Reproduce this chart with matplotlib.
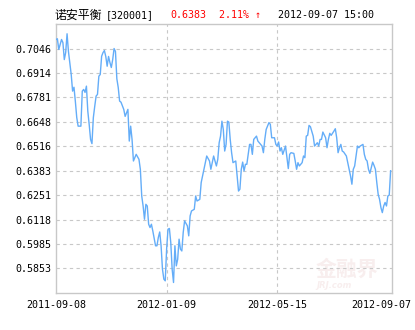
import matplotlib
matplotlib.use("Agg")
import matplotlib.pyplot as plt
import matplotlib.transforms as mtransforms

# NAV of 诺安平衡 [320001], one point per (sampled) trading day
days = [0, 1, 2, 4, 5, 6, 7, 8, 9, 11,
        12, 13, 14, 15, 16, 18, 19, 20, 21, 22,
        23, 24, 25, 26, 27, 28, 29, 30, 31, 32,
        33, 34, 35, 36, 37, 38, 39, 40, 41, 42,
        43, 44, 45, 46, 47, 49, 50, 52, 53, 54,
        55, 56, 58, 60, 61, 62, 63, 64, 65, 66,
        67, 68, 69, 70, 72, 73, 74, 75, 76, 77,
        78, 79, 80, 81, 82, 83, 84, 85, 86, 87,
        88, 89, 90, 91, 92, 93, 95, 96, 97, 98,
        100, 101, 102, 104, 105, 107, 108, 109, 111, 112,
        113, 114, 116, 117, 118, 119, 120, 121, 122, 123,
        124, 125, 126, 127, 128, 130, 131, 132, 133, 134,
        135, 136, 137, 138, 140, 141, 142, 143, 145, 146,
        148, 149, 150, 151, 152, 154, 155, 156, 158, 159,
        160, 161, 162, 163, 164, 166, 167, 168, 169, 170,
        172, 173, 174, 175, 176, 178, 179, 180, 181, 182,
        183, 184, 186, 187, 188, 189, 190, 191, 192, 193,
        195, 196, 197, 198, 199, 201, 202, 203, 204, 205,
        206, 207, 208, 210, 211, 213, 214, 215, 216, 217,
        218, 219, 220, 222, 223, 224, 225, 226, 227, 228,
        229, 230, 231, 232, 233, 234, 235, 236, 237, 238,
        239, 240, 241, 242]

nav = [0.7095, 0.7099, 0.7041, 0.7095, 0.7078, 0.6986, 0.7024, 0.7126, 0.7030, 0.6905,
       0.6815, 0.6836, 0.6759, 0.6672, 0.6625, 0.6625, 0.6815, 0.6824, 0.6808, 0.6842,
       0.6706, 0.6634, 0.6553, 0.6530, 0.6671, 0.6732, 0.6788, 0.6797, 0.6896, 0.6905,
       0.7004, 0.7024, 0.7035, 0.7003, 0.6950, 0.7003, 0.6970, 0.6943, 0.6986, 0.7046,
       0.7030, 0.6882, 0.6835, 0.6761, 0.6755, 0.6716, 0.6678, 0.6716, 0.6544, 0.6625,
       0.6553, 0.6436, 0.6472, 0.6445, 0.6391, 0.6246, 0.6192, 0.6120, 0.6201, 0.6192,
       0.6093, 0.6075, 0.6093, 0.6057, 0.5976, 0.5976, 0.6021, 0.6051, 0.5976, 0.5849,
       0.5795, 0.5786, 0.5958, 0.6066, 0.6070, 0.5994, 0.5849, 0.5777, 0.5976, 0.5867,
       0.5903, 0.6012, 0.5958, 0.5948, 0.6048, 0.6111, 0.6084, 0.6030, 0.6138, 0.6165,
       0.6174, 0.6246, 0.6219, 0.6228, 0.6319, 0.6391, 0.6427, 0.6463, 0.6436, 0.6391,
       0.6427, 0.6463, 0.6409, 0.6445, 0.6535, 0.6571, 0.6652, 0.6607, 0.6490, 0.6526,
       0.6652, 0.6647, 0.6553, 0.6481, 0.6427, 0.6436, 0.6355, 0.6273, 0.6283, 0.6391,
       0.6430, 0.6382, 0.6418, 0.6418, 0.6526, 0.6526, 0.6472, 0.6553, 0.6571, 0.6544,
       0.6526, 0.6517, 0.6481, 0.6553, 0.6607, 0.6644, 0.6635, 0.6562, 0.6562, 0.6526,
       0.6517, 0.6539, 0.6490, 0.6508, 0.6472, 0.6517, 0.6454, 0.6395, 0.6472, 0.6481,
       0.6477, 0.6436, 0.6391, 0.6427, 0.6409, 0.6427, 0.6463, 0.6454, 0.6571, 0.6575,
       0.6629, 0.6622, 0.6571, 0.6517, 0.6526, 0.6535, 0.6517, 0.6553, 0.6553, 0.6593,
       0.6562, 0.6508, 0.6553, 0.6586, 0.6575, 0.6598, 0.6611, 0.6562, 0.6481, 0.6508,
       0.6526, 0.6490, 0.6485, 0.6463, 0.6427, 0.6355, 0.6310, 0.6391, 0.6409, 0.6463,
       0.6517, 0.6508, 0.6517, 0.6526, 0.6472, 0.6445, 0.6436, 0.6391, 0.6369, 0.6400,
       0.6430, 0.6412, 0.6391, 0.6319, 0.6255, 0.6228, 0.6183, 0.6156, 0.6192, 0.6211,
       0.6192, 0.6246, 0.6251, 0.6383]

y_ticks = [0.5853, 0.5985, 0.6118, 0.6251, 0.6383, 0.6516, 0.6648, 0.6781, 0.6914, 0.7046]
y_range = (0.5720, 0.7179)
x_ticks = [0, 80, 160, 243]
x_labels = ["2011-09-08", "2012-01-09", "2012-05-15", "2012-09-07"]

fund_name = "诺安平衡"
fund_code = "[320001]"
last_nav = "0.6383"
change = "2.11% ↑"
stamp = "2012-09-07 15:00"

W, H = 415, 330
mono = ["DejaVu Sans Mono", "DejaVu Sans"]
border = "#c8c8c8"
grid_c = "#c8c8c8"

fig = plt.figure(figsize=(W / 100, H / 100), dpi=100)
ax = fig.add_axes([56 / W, 1 - 293 / H, 336 / W, 269 / H])

# faint watermark
ax.text(0.96, 0.05, "金融界", transform=ax.transAxes, ha="right", va="bottom",
        fontsize=15, color="#f8eeee", family="Noto Sans CJK SC", fontweight="bold", zorder=0)
ax.text(0.88, 0.01, "JRJ.com", transform=ax.transAxes, ha="right", va="bottom",
        fontsize=6, color="#f8eeee", style="italic", fontweight="bold", zorder=0)

ax.plot(days, nav, color="#64adf8", lw=1.0, zorder=3)

ax.set_xlim(0, 243)
ax.set_ylim(*y_range)
ax.set_yticks(y_ticks)
ax.set_yticklabels([f"{v:.4f}" for v in y_ticks], family=mono, fontsize=7.2)
ax.set_xticks(x_ticks)
ax.set_xticklabels(x_labels, family=mono, fontsize=7.2)
ax.tick_params(length=0, pad=3)
ax.tick_params(axis="x", pad=5)

# last date label sits inside the right edge
lab = ax.get_xticklabels()[-1]
lab.set_transform(lab.get_transform() + mtransforms.ScaledTranslation(-11 / 100, 0, fig.dpi_scale_trans))

for v in y_ticks:
    ax.axhline(v, color=grid_c, lw=0.8, ls=(0, (3, 3)), zorder=1)
for d in x_ticks[1:-1]:
    ax.axvline(d, color=grid_c, lw=0.8, ls=(0, (3, 3)), zorder=1)

for s in ax.spines.values():
    s.set_color(border)
    s.set_linewidth(1.0)

# header line
ty = 1 - 15.5 / H
fig.text(54 / W, ty, fund_name, family=["Noto Sans CJK SC", "DejaVu Sans"], fontsize=8.6,
         va="center", ha="left", color="black")
fig.text(106 / W, ty, fund_code, family=mono, fontsize=7.2, va="center", ha="left", color="black")
fig.text(170.5 / W, ty, last_nav, family=mono, fontsize=7.2, va="center", ha="left", color="#ff0000")
fig.text(219 / W, ty, change, family=mono, fontsize=7.2, va="center", ha="left", color="#ff0000")
fig.text(278.5 / W, ty, stamp, family=mono, fontsize=7.2, va="center", ha="left", color="black")

fig.savefig("out.png", dpi=100)
